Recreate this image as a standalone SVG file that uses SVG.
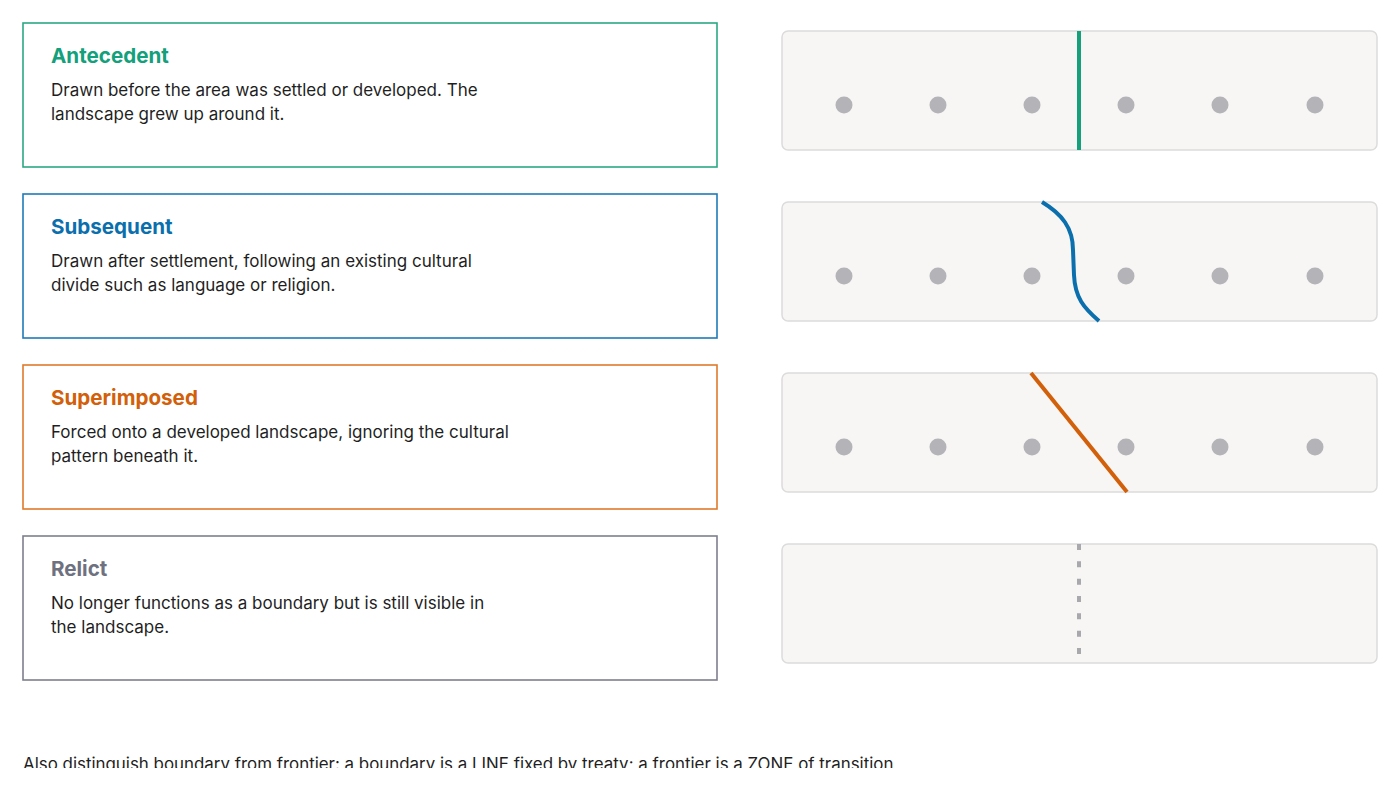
<svg xmlns="http://www.w3.org/2000/svg" width="1400" height="790" viewBox="0 0 1400 790">
<defs>
<style>
.card{fill:#ffffff;stroke-width:1.6}
.title{font-family:Inter,"Noto Sans",sans-serif;font-weight:700;font-size:20.6px}
.body{font-family:Inter,"Noto Sans",sans-serif;font-size:17px;fill:#1f1f1f}
.note{font-family:Inter,"Noto Sans",sans-serif;font-size:16.9px;fill:#1f1f1f}
.panel{fill:#f7f6f4;stroke:#dcdcdc;stroke-width:1.5}
.dot{fill:#b3b3b8}
.line{fill:none;stroke-width:4}
</style>
<clipPath id="noteClip"><rect x="0" y="0" width="1400" height="768"/></clipPath>
<g id="dots">
<circle class="dot" cx="844" cy="0" r="8.5"/>
<circle class="dot" cx="938" cy="0" r="8.5"/>
<circle class="dot" cx="1032" cy="0" r="8.5"/>
<circle class="dot" cx="1126" cy="0" r="8.5"/>
<circle class="dot" cx="1220" cy="0" r="8.5"/>
<circle class="dot" cx="1315" cy="0" r="8.5"/>
</g>
</defs>
<rect width="1400" height="790" fill="#ffffff"/>

<g id="antecedent">
<rect class="card" x="23" y="23" width="694" height="144" stroke="#2aa982"/>
<text class="title" x="51" y="63" fill="#13a07a">Antecedent</text>
<text class="body" x="51" y="96">Drawn before the area was settled or developed. The</text>
<text class="body" x="51" y="120">landscape grew up around it.</text>
</g>
<g id="antecedent-panel">
<rect class="panel" x="782" y="31" width="595" height="119" rx="6"/>
<use href="#dots" y="105"/>
</g>

<g id="subsequent">
<rect class="card" x="23" y="194" width="694" height="144" stroke="#1f7ab8"/>
<text class="title" x="51" y="234" fill="#0b6fad">Subsequent</text>
<text class="body" x="51" y="267">Drawn after settlement, following an existing cultural</text>
<text class="body" x="51" y="291">divide such as language or religion.</text>
</g>
<g id="subsequent-panel">
<rect class="panel" x="782" y="202" width="595" height="119" rx="6"/>
<use href="#dots" y="276"/>
</g>

<g id="superimposed">
<rect class="card" x="23" y="365" width="694" height="144" stroke="#e07a2a"/>
<text class="title" x="51" y="405" fill="#d2600a">Superimposed</text>
<text class="body" x="51" y="438">Forced onto a developed landscape, ignoring the cultural</text>
<text class="body" x="51" y="462">pattern beneath it.</text>
</g>
<g id="superimposed-panel">
<rect class="panel" x="782" y="373" width="595" height="119" rx="6"/>
<use href="#dots" y="447"/>
</g>

<g id="relict">
<rect class="card" x="23" y="536" width="694" height="144" stroke="#7d7f8e"/>
<text class="title" x="51" y="576" fill="#6e7180">Relict</text>
<text class="body" x="51" y="609">No longer functions as a boundary but is still visible in</text>
<text class="body" x="51" y="633">the landscape.</text>
</g>
<g id="relict-panel">
<rect class="panel" x="782" y="544" width="595" height="119" rx="6"/>
</g>

<g id="connectors">
<line class="line" x1="1079" y1="31" x2="1079" y2="150" stroke="#13a07a"/>
<path class="line" d="M1042,202 C1062,214 1073,228 1073,250 L1074,275 C1075,298 1084,308 1099,321" stroke="#0b6fad" stroke-width="3.5"/>
<line class="line" x1="1031" y1="373" x2="1127" y2="492" stroke="#d2600a"/>
<line class="line" x1="1079" y1="544" x2="1079" y2="663" stroke="#a8a8ad" stroke-width="3.5" stroke-dasharray="6 11.33"/>
</g>

<g id="note" clip-path="url(#noteClip)">
<text class="note" x="23" y="770">Also distinguish boundary from frontier: a boundary is a LINE fixed by treaty; a frontier is a ZONE of transition</text>
</g>
</svg>
